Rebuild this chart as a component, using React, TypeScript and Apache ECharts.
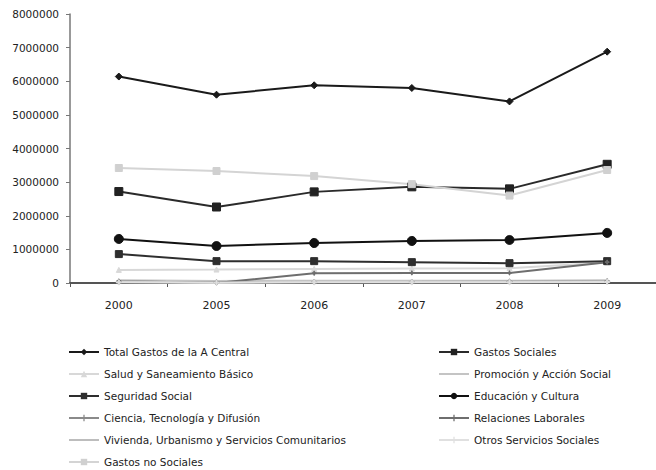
import React, { useEffect, useRef } from "react";
import * as echarts from "echarts";

// Gasto público por función, Administración Central
const years = ["2000", "2005", "2006", "2007", "2008", "2009"];

const totalGastos = [6140000, 5600000, 5880000, 5800000, 5400000, 6880000];
const gastosSociales = [2720000, 2260000, 2710000, 2860000, 2800000, 3530000];
const salud = [390000, 400000, 420000, 430000, 440000, 610000];
const promocion = [80000, 60000, 70000, 70000, 70000, 80000];
const seguridad = [860000, 650000, 650000, 620000, 590000, 650000];
const educacion = [1310000, 1100000, 1190000, 1250000, 1280000, 1490000];
const ciencia = [30000, 20000, 30000, 30000, 40000, 50000];
const relaciones = [60000, 0, 290000, 300000, 300000, 620000];
const vivienda = [50000, 10000, 40000, 40000, 40000, 50000];
const otros = [20000, 10000, 20000, 20000, 20000, 30000];
const gastosNoSociales = [3420000, 3330000, 3180000, 2940000, 2600000, 3360000];

const yTicks = [0, 1000000, 2000000, 3000000, 4000000, 5000000, 6000000, 7000000, 8000000];

const leftLegend = [
  "Total Gastos de la A Central",
  "Salud y Saneamiento Básico",
  "Seguridad Social",
  "Ciencia, Tecnología y Difusión",
  "Vivienda, Urbanismo y Servicios Comunitarios",
  "Gastos no Sociales",
];
const rightLegend = [
  "Gastos Sociales",
  "Promoción y Acción Social",
  "Educación y Cultura",
  "Relaciones Laborales",
  "Otros Servicios Sociales",
];

const PLUS = "path://M2,0 H3 V2 H5 V3 H3 V5 H2 V3 H0 V2 H2 Z";
const CLEAR = "rgba(0,0,0,0)";

type Spec = {
  name: string;
  data: number[];
  color: string;
  marker: string;
  size: number;
  markerColor?: string;
};

const specs: Spec[] = [
  { name: "Total Gastos de la A Central", data: totalGastos, color: "#1a1a1a", marker: "diamond", size: 7 },
  { name: "Gastos Sociales", data: gastosSociales, color: "#2a2a2a", marker: "rect", size: 8, markerColor: "#222" },
  { name: "Salud y Saneamiento Básico", data: salud, color: "#d8d8d8", marker: "triangle", size: 5 },
  { name: "Promoción y Acción Social", data: promocion, color: "#c4c4c4", marker: "none", size: 0 },
  { name: "Seguridad Social", data: seguridad, color: "#2e2e2e", marker: "rect", size: 7 },
  { name: "Educación y Cultura", data: educacion, color: "#111111", marker: "circle", size: 9 },
  { name: "Ciencia, Tecnología y Difusión", data: ciencia, color: "#8a8a8a", marker: PLUS, size: 5 },
  { name: "Relaciones Laborales", data: relaciones, color: "#6e6e6e", marker: PLUS, size: 4 },
  { name: "Vivienda, Urbanismo y Servicios Comunitarios", data: vivienda, color: "#bdbdbd", marker: "none", size: 0 },
  { name: "Otros Servicios Sociales", data: otros, color: "#e0e0e0", marker: PLUS, size: 5 },
  { name: "Gastos no Sociales", data: gastosNoSociales, color: "#d4d4d4", marker: "rect", size: 7, markerColor: "#d0d0d0" },
];

const FONT = "DejaVu Sans";

export default function App() {
  const ref = useRef<HTMLDivElement>(null);

  useEffect(() => {
    if (!ref.current) return;
    const chart = echarts.init(ref.current, undefined, { renderer: "svg" });

    const legendBase = {
      type: "plain" as const,
      orient: "vertical" as const,
      top: 341,
      height: 160,
      itemWidth: 30,
      itemHeight: 8,
      itemGap: 10,
      selectedMode: false,
      textStyle: { fontFamily: FONT, fontSize: 10.5, color: "#222", lineHeight: 12 },
    };

    chart.setOption({
      animation: false,
      backgroundColor: "#ffffff",
      grid: { left: 70, top: 14, width: 590, height: 269, containLabel: false },
      legend: [
        { ...legendBase, left: 63, data: leftLegend },
        { ...legendBase, left: 433, data: rightLegend },
      ],
      xAxis: {
        type: "category",
        data: years,
        boundaryGap: true,
        axisLine: { lineStyle: { color: "#555", width: 2 } },
        axisTick: { show: true, length: 4, lineStyle: { color: "#555" } },
        axisLabel: { fontFamily: FONT, fontSize: 11, color: "#222", margin: 17 },
      },
      yAxis: {
        type: "value",
        min: 0,
        max: 8000000,
        interval: 1000000,
        splitLine: { show: false },
        axisLine: { show: true, lineStyle: { color: "#777", width: 1.5 } },
        axisTick: { show: true, length: 4, lineStyle: { color: "#777" } },
        axisLabel: {
          fontFamily: FONT,
          fontSize: 10.5,
          color: "#222",
          margin: 11,
          formatter: (v: number) => (yTicks.includes(v) ? String(v) : ""),
        },
      },
      series: specs.map((s) => {
        const noMarker = s.marker === "none";
        const mColor = noMarker ? CLEAR : s.markerColor || s.color;
        return {
          name: s.name,
          type: "line",
          data: s.data,
          symbol: noMarker ? "circle" : s.marker,
          symbolSize: s.size,
          showSymbol: !noMarker,
          lineStyle: { color: s.color, width: 2 },
          itemStyle: { color: mColor, borderColor: mColor },
          emphasis: { disabled: true },
        };
      }),
    });

    return () => chart.dispose();
  }, []);

  return <div ref={ref} style={{ width: 656, height: 470, position: "absolute", left: 0, top: 0 }} />;
}
